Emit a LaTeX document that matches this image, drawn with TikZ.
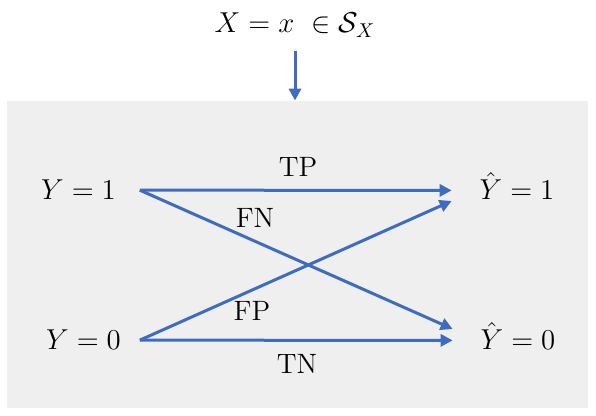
\documentclass[tikz,border=0pt]{standalone}
\usetikzlibrary{arrows.meta, positioning}
\definecolor{linkblue}{RGB}{62,108,190}
\definecolor{panelgray}{RGB}{239,239,239}

\begin{document}
\begin{tikzpicture}[
  x=0.5pt, y=-0.5pt,
  panelstyle/.style={fill=panelgray, draw=none, minimum width=290.5pt, minimum height=153.5pt, inner sep=0pt},
  val/.style={font=\fontsize{14}{17}\selectfont, inner sep=0pt, anchor=base},
  lbl/.style={font=\fontsize{14}{17}\selectfont, inner sep=0pt},
  arr/.style={-{Triangle[length=6pt, width=6pt]}, line width=1.5pt, draw=linkblue}
]
  \useasboundingbox (0,0) rectangle (596,416);

  %% Gray panel
  \node[panelstyle] (panel) at (297.5,254.5) {};

  %% Input
  \node[val, outer ysep=7pt] (input) at (295,33) {$X = x\ \in \mathcal{S}_X$};
  \draw[arr] (input.south) -- (input.south |- panel.north);

  %% True labels
  \node[val, outer xsep=12pt] (y1) at (78.5,200) {$Y = 1$};
  \node[val, outer xsep=9.5pt] (y0) at (83.5,350) {$Y = 0$};

  %% Predicted labels
  \node[val, outer xsep=14pt] (yh1) at (517,200) {$\hat{Y} = 1$};
  \node[val, outer xsep=14pt] (yh0) at (518,350) {$\hat{Y} = 0$};

  %% Outcomes
  \draw[arr] (y1.east) -- ([yshift=4.8pt]yh1.base west);
  \draw[arr] (y1.east) -- ([yshift=10.5pt]yh0.base west);
  \draw[arr] (y0.east) -- ([yshift=-0.5pt]yh1.base west);
  \draw[arr] (y0.east) -- ([yshift=4.8pt]yh0.base west);

  \node[lbl] (tp) at (298,167) {TP};
  \node[lbl] (fn) at (255,218) {FN};
  \node[lbl] (fp) at (252,311) {FP};
  \node[lbl] (tn) at (297,364) {TN};

\end{tikzpicture}
\end{document}
